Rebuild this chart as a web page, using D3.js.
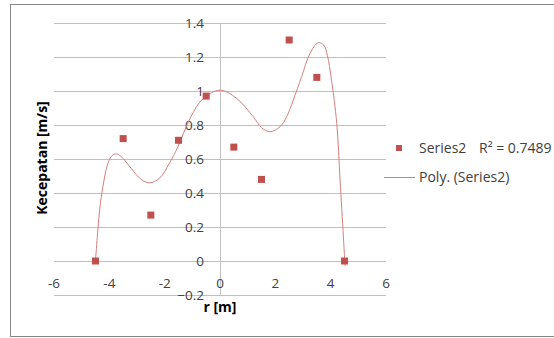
<!DOCTYPE html>
<html>
<head>
<meta charset="utf-8">
<script src="https://cdn.jsdelivr.net/npm/d3@7"></script>
<style>
  body { margin: 0; background: #fff; }
  text { font-family: "Open Sans", "Liberation Sans", sans-serif; fill: #404040; }
</style>
</head>
<body>
<div id="chart"></div>
<script>
var xValues = [-4.5, -3.5, -2.5, -1.5, -0.5, 0.5, 1.5, 2.5, 3.5, 4.5];
var yValues = [0, 0.72, 0.27, 0.71, 0.97, 0.67, 0.48, 1.30, 1.08, 0];
// trendline as drawn in the reference
var trendX = [-4.5, -4.35, -4.23, -4.05, -3.9, -3.75, -3.57, -3.21, -2.85, -2.55, -2.19, -1.83, -1.52, -1.08, -0.6, 0, 0.6, 1.2, 1.5, 1.81, 2.17, 2.41, 2.65, 2.95, 3.25, 3.55, 3.75, 3.88, 4.03, 4.22, 4.34, 4.46, 4.52];
var trendY = [0, 0.30, 0.44, 0.575, 0.62, 0.63, 0.614, 0.545, 0.48, 0.46, 0.486, 0.575, 0.672, 0.84, 0.957, 1.005, 0.957, 0.849, 0.785, 0.76, 0.79, 0.849, 0.947, 1.084, 1.22, 1.284, 1.27, 1.21, 1.065, 0.81, 0.476, 0.143, -0.03];
var xTicks = [-6, -4, -2, 0, 2, 4, 6];
var yTicks = [-0.2, 0, 0.2, 0.4, 0.6, 0.8, 1, 1.2, 1.4];
var seriesName = "Series2";
var trendName = "Poly. (Series2)";
var rSquaredText = "R\u00b2 = 0.7489";

var svgWidth = 554;
var svgHeight = 338;

var svg = d3.select("#chart")
  .append("svg")
  .attr("width", svgWidth)
  .attr("height", svgHeight);

// chart border
svg.append("rect")
  .attr("x", 10.5)
  .attr("y", 4.5)
  .attr("width", 560)
  .attr("height", 332)
  .attr("fill", "#fff")
  .attr("stroke", "#868686")
  .attr("stroke-width", 1);

var x = d3.scaleLinear().domain([-6, 6]).range([54, 386]);
var y = d3.scaleLinear().domain([-0.2, 1.4]).range([295, 23]);

// gridlines
svg.append("g")
  .selectAll("line")
  .data(yTicks)
  .enter()
  .append("line")
  .attr("x1", x(-6))
  .attr("x2", x(6))
  .attr("y1", d => Math.round(y(d)) + 0.5)
  .attr("y2", d => Math.round(y(d)) + 0.5)
  .attr("stroke", "#c0c0c0")
  .attr("stroke-width", 1);

// vertical axis at x = 0
svg.append("line")
  .attr("x1", Math.round(x(0)) + 0.5)
  .attr("x2", Math.round(x(0)) + 0.5)
  .attr("y1", y(1.4))
  .attr("y2", y(-0.2))
  .attr("stroke", "#c0c0c0");

// y tick labels
svg.append("g")
  .selectAll("text")
  .data(yTicks)
  .enter()
  .append("text")
  .attr("x", x(0) - 16)
  .attr("y", d => y(d))
  .attr("dy", "0.35em")
  .attr("text-anchor", "end")
  .style("font-size", "13.5px")
  .text(d => d3.format("")(+d.toFixed(1)));

// x tick labels
svg.append("g")
  .selectAll("text")
  .data(xTicks)
  .enter()
  .append("text")
  .attr("x", d => x(d))
  .attr("y", y(0) + 22)
  .attr("dy", "0.35em")
  .attr("text-anchor", "middle")
  .style("font-size", "13.5px")
  .text(d => d);

// trendline
svg.append("path")
  .datum(d3.zip(trendX, trendY))
  .attr("fill", "none")
  .attr("stroke", "#d47f7d")
  .attr("stroke-width", 1)
  .attr("d", d3.line()
    .x(d => x(d[0]))
    .y(d => y(d[1]))
    .curve(d3.curveCatmullRom.alpha(0.5)));

// markers
svg.append("g")
  .selectAll("rect")
  .data(xValues)
  .enter()
  .append("rect")
  .attr("x", (d, i) => x(d) - 3.5)
  .attr("y", (d, i) => y(yValues[i]) - 3.5)
  .attr("width", 7)
  .attr("height", 7)
  .attr("fill", "#c0504d");

// axis titles
svg.append("text")
  .attr("transform", "translate(47, 158) rotate(-90)")
  .attr("text-anchor", "middle")
  .style("font-size", "14px")
  .style("font-weight", "bold")
  .style("fill", "#000")
  .text("Kecepatan [m/s]");

svg.append("text")
  .attr("x", 220)
  .attr("y", 312)
  .attr("text-anchor", "middle")
  .style("font-size", "14px")
  .style("font-weight", "bold")
  .style("fill", "#000")
  .text("r [m]");

// legend
svg.append("rect")
  .attr("x", 396)
  .attr("y", 145)
  .attr("width", 6)
  .attr("height", 6)
  .attr("fill", "#c0504d");

svg.append("text")
  .attr("x", 419)
  .attr("y", 148)
  .attr("dy", "0.35em")
  .style("font-size", "14px")
  .text(seriesName);

svg.append("text")
  .attr("x", 479)
  .attr("y", 148)
  .attr("dy", "0.35em")
  .style("font-size", "14px")
  .text(rSquaredText);

svg.append("line")
  .attr("x1", 384)
  .attr("x2", 415)
  .attr("y1", 177.5)
  .attr("y2", 177.5)
  .attr("stroke", "#d47f7d")
  .attr("stroke-width", 1);

svg.append("text")
  .attr("x", 419)
  .attr("y", 177)
  .attr("dy", "0.35em")
  .style("font-size", "14px")
  .text(trendName);
</script>
</body>
</html>
